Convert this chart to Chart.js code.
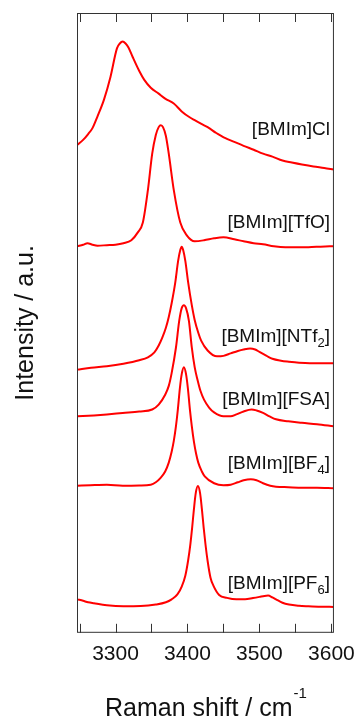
<!DOCTYPE html>
<html>
<head>
<meta charset="utf-8">
<script src="https://cdn.jsdelivr.net/npm/chart.js@4"></script>
<style>
  html, body { margin: 0; padding: 0; background: #fff; }
</style>
</head>
<body>
<canvas id="chart" width="364" height="720"></canvas>
<script>
// Raman spectra, offset vertically (arbitrary units)

const clShift = [3247, 3255, 3262, 3268, 3275, 3284, 3293, 3302, 3306, 3310, 3314, 3318, 3324, 3333, 3340, 3349, 3360, 3369, 3381, 3392, 3403, 3410, 3420, 3428, 3440, 3447, 3452, 3465, 3478, 3492, 3505, 3518, 3532, 3545, 3559, 3575, 3590, 3603];
const clIntensity = [49.6, 50.1, 50.7, 51.3, 52.5, 54.2, 56.5, 59.4, 59.9, 60.1, 59.9, 59.5, 58.5, 57.1, 56.2, 55.4, 54.8, 54.3, 53.8, 53.0, 52.4, 52.1, 51.7, 51.4, 50.8, 50.5, 50.3, 49.9, 49.5, 49.1, 48.7, 48.4, 48.0, 47.8, 47.6, 47.4, 47.25, 47.1];

const tfoShift = [3247, 3255, 3261, 3268, 3275, 3288, 3300, 3311, 3322, 3331, 3338, 3345, 3351, 3356, 3360, 3363, 3366, 3370, 3374, 3381, 3390, 3399, 3410, 3423, 3437, 3450, 3465, 3478, 3492, 3505, 3520, 3536, 3552, 3568, 3585, 3603];
const tfoIntensity = [39.3, 39.45, 39.6, 39.45, 39.35, 39.4, 39.45, 39.6, 39.9, 40.7, 41.7, 45.0, 48.7, 50.6, 51.4, 51.6, 51.4, 50.5, 48.7, 45.0, 41.7, 40.4, 39.8, 39.9, 40.1, 40.2, 40.0, 39.8, 39.6, 39.5, 39.3, 39.2, 39.2, 39.2, 39.25, 39.3];

const ntfShift = [3247, 3266, 3288, 3311, 3333, 3345, 3354, 3360, 3365, 3370, 3374, 3378, 3383, 3387, 3390, 3392, 3394, 3397, 3401, 3406, 3410, 3415, 3419, 3428, 3441, 3450, 3460, 3470, 3478, 3487, 3494, 3500, 3510, 3518, 3530, 3541, 3555, 3570, 3585, 3603];
const ntfIntensity = [26.75, 26.95, 27.1, 27.35, 27.7, 28.0, 28.5, 29.2, 30.0, 31.0, 32.1, 33.5, 35.6, 37.8, 38.9, 39.25, 38.9, 37.8, 35.6, 33.3, 31.8, 30.5, 29.7, 28.7, 28.1, 28.15, 28.4, 28.65, 28.8, 28.9, 28.8, 28.55, 28.15, 27.85, 27.65, 27.55, 27.45, 27.4, 27.4, 27.4];

const fsaShift = [3247, 3270, 3288, 3310, 3333, 3351, 3360, 3369, 3374, 3378, 3384, 3388.5, 3392, 3395, 3398, 3402, 3406, 3410, 3414, 3418, 3423, 3430, 3437, 3450, 3460, 3468, 3478, 3489, 3496, 3505, 3514, 3523, 3540, 3559, 3580, 3603];
const fsaIntensity = [22.0, 22.1, 22.2, 22.35, 22.5, 22.7, 23.2, 24.2, 25.1, 26.4, 29.0, 31.7, 33.0, 33.3, 33.0, 31.7, 29.0, 27.0, 25.7, 24.6, 23.7, 22.9, 22.4, 22.0, 22.0, 22.2, 22.5, 22.7, 22.6, 22.35, 22.0, 21.7, 21.5, 21.35, 21.2, 21.0];

const bf4Shift = [3247, 3265, 3288, 3310, 3333, 3349, 3356, 3362, 3369, 3374, 3378, 3381, 3384, 3386.5, 3389.5, 3392, 3395, 3398, 3400.5, 3403.5, 3406, 3409, 3412, 3415, 3420, 3424, 3437, 3450, 3460, 3470, 3478, 3488, 3496, 3505, 3515, 3523, 3540, 3560, 3580, 3603];
const bf4Intensity = [14.95, 15.0, 15.05, 14.95, 14.97, 15.05, 15.3, 15.7, 16.4, 17.3, 18.4, 19.5, 21.0, 22.6, 24.9, 26.3, 27.0, 26.3, 24.9, 22.6, 21.0, 19.4, 18.2, 17.3, 16.4, 15.9, 15.2, 15.0, 15.05, 15.3, 15.5, 15.6, 15.5, 15.2, 14.95, 14.85, 14.8, 14.75, 14.75, 14.7];

const pf6Shift = [3247, 3255, 3262, 3270, 3288, 3311, 3335, 3356, 3370, 3378, 3386, 3392, 3397, 3401, 3404, 3406.5, 3409, 3411.5, 3414.5, 3417.5, 3420, 3422.5, 3425, 3428, 3432, 3436, 3444, 3455, 3468, 3480, 3491, 3500, 3507, 3512, 3518, 3523, 3532, 3541, 3555, 3568, 3585, 3603];
const pf6Intensity = [3.4, 3.25, 3.1, 3.0, 2.8, 2.7, 2.72, 2.87, 3.1, 3.4, 3.9, 4.7, 5.8, 7.4, 9.0, 10.7, 12.6, 14.2, 14.93, 14.2, 12.6, 10.7, 9.0, 7.3, 5.6, 4.8, 3.85, 3.55, 3.4, 3.4, 3.53, 3.65, 3.75, 3.78, 3.6, 3.4, 3.05, 2.87, 2.75, 2.7, 2.65, 2.63];

// sample names: odd parts are subscripts
const sampleNames = [['[BMIm]Cl'], ['[BMIm][TfO]'], ['[BMIm][NTf', '2', ']'], ['[BMIm][FSA]'], ['[BMIm][BF', '4', ']'], ['[BMIm][PF', '6', ']']];
const nameBaselines = [50.6, 41.1, 29.6, 23.2, 16.7, 4.5];
const nameRightShift = 3598;

const xLabelTicks = [3300, 3400, 3500, 3600];
const xTickMarks = [3250, 3300, 3350, 3400, 3450, 3500, 3550, 3600];

const FONT = '"Liberation Sans", Arial, Helvetica, sans-serif';

function toPoints(xs, ys) {
  return xs.map((v, i) => ({ x: v, y: ys[i] }));
}

const spectra = [
  [clShift, clIntensity],
  [tfoShift, tfoIntensity],
  [ntfShift, ntfIntensity],
  [fsaShift, fsaIntensity],
  [bf4Shift, bf4Intensity],
  [pf6Shift, pf6Intensity]
];

const decorations = {
  id: 'decorations',
  afterDraw(chart) {
    const { ctx, chartArea: a, scales: { x, y } } = chart;
    ctx.save();

    // frame + inward ticks
    ctx.strokeStyle = '#333';
    ctx.lineWidth = 1;
    ctx.strokeRect(a.left + 0.5, a.top + 0.5, a.right - a.left - 1, a.bottom - a.top - 1);
    ctx.beginPath();
    xTickMarks.forEach(v => {
      const px = Math.round(x.getPixelForValue(v)) + 0.5;
      ctx.moveTo(px, a.bottom);
      ctx.lineTo(px, a.bottom - 9);
      ctx.moveTo(px, a.top);
      ctx.lineTo(px, a.top + 9);
    });
    ctx.stroke();

    // sample names
    ctx.fillStyle = '#111';
    ctx.textBaseline = 'alphabetic';
    ctx.textAlign = 'left';
    sampleNames.forEach((parts, i) => {
      const widths = parts.map((p, k) => {
        ctx.font = (k % 2 ? '13px ' : '19px ') + FONT;
        return ctx.measureText(p).width;
      });
      let px = x.getPixelForValue(nameRightShift) - widths.reduce((s, w) => s + w, 0);
      const py = y.getPixelForValue(nameBaselines[i]);
      parts.forEach((p, k) => {
        ctx.font = (k % 2 ? '13px ' : '19px ') + FONT;
        ctx.fillText(p, px, py + (k % 2 ? 5 : 0));
        px += widths[k];
      });
    });

    // y title
    ctx.save();
    ctx.translate(26, (a.top + a.bottom) / 2);
    ctx.rotate(-Math.PI / 2);
    ctx.textAlign = 'center';
    ctx.textBaseline = 'middle';
    ctx.font = '25px ' + FONT;
    ctx.fillText('Intensity / a.u.', 0, 0);
    ctx.restore();

    // x title with superscript
    ctx.font = '25px ' + FONT;
    const main = 'Raman shift / cm';
    const mw = ctx.measureText(main).width;
    ctx.font = '15px ' + FONT;
    const sw = ctx.measureText('-1').width;
    const tx = (a.left + a.right) / 2 - (mw + sw) / 2;
    ctx.font = '25px ' + FONT;
    ctx.fillText(main, tx, 716);
    ctx.font = '15px ' + FONT;
    ctx.fillText('-1', tx + mw + 1, 698);

    ctx.restore();
  }
};

new Chart(document.getElementById('chart'), {
  type: 'line',
  data: {
    datasets: spectra.map(([xs, ys]) => ({
      data: toPoints(xs, ys),
      borderColor: '#ff0000',
      borderWidth: 2,
      pointRadius: 0,
      fill: false,
      cubicInterpolationMode: 'monotone'
    }))
  },
  options: {
    responsive: false,
    devicePixelRatio: 1,
    animation: false,
    events: [],
    layout: { padding: { top: 13, left: 77, right: 23, bottom: 44 } },
    plugins: { legend: { display: false }, tooltip: { enabled: false } },
    scales: {
      x: {
        type: 'linear',
        min: 3246.5,
        max: 3603.5,
        afterBuildTicks: s => { s.ticks = xLabelTicks.map(v => ({ value: v })); },
        grid: { display: false, drawTicks: false },
        border: { display: false },
        ticks: {
          padding: 9,
          maxRotation: 0,
          color: '#111',
          font: { family: FONT, size: 21 },
          callback: v => String(v)
        }
      },
      y: {
        display: false,
        min: 0,
        max: 63
      }
    }
  },
  plugins: [decorations]
});
</script>
</body>
</html>
